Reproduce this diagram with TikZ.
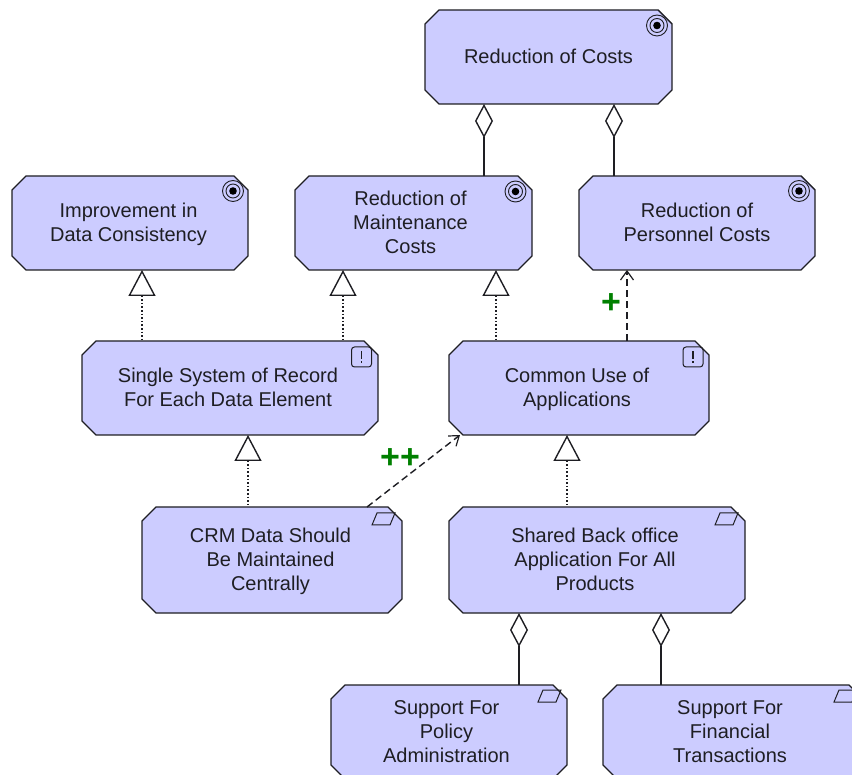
\documentclass[tikz,border=0pt]{standalone}
\usepackage{fontspec}
\setmainfont{Liberation Sans}
\usetikzlibrary{shapes.misc,arrows.meta}
\definecolor{boxfill}{RGB}{204,204,255}
\definecolor{plusgreen}{RGB}{0,128,0}
\definecolor{ink}{RGB}{30,30,35}
\newcommand{\ls}{\rule[-5.8pt]{0pt}{24pt}}
\tikzset{
  x=1pt,y=-1pt,
  el/.style={chamfered rectangle,chamfered rectangle xsep=7pt,chamfered rectangle ysep=7pt,
    draw=ink,line width=1.4pt,fill=boxfill,inner sep=0pt,outer sep=0pt,align=center,text=ink,
    font=\fontsize{20}{24}\selectfont},
  comp/.style={line width=1.4pt,draw=ink,{Diamond[open,length=34pt,width=18pt,line width=1.4pt]}-},
  realize/.style={line width=1.4pt,draw=ink,dash pattern=on 1.6pt off 2pt,{Triangle[open,length=26pt,width=27pt,line width=1.4pt,sep=0pt]}-},
  infl/.style={line width=1.4pt,draw=ink,dash pattern=on 7pt off 4pt,-{Straight Barb[length=9pt,width=13pt,line width=1.2pt]}},
  plus/.style={text=plusgreen,font=\fontsize{34}{34}\selectfont\bfseries,inner sep=0pt},
  goalicon/.pic={
    \draw[ink,line width=0.9pt] (0,0) circle (10.5);
    \draw[ink,line width=0.9pt] (0,0) circle (7);
    \fill[black] (0,0) circle (3.8);
  },
  reqicon/.pic={
    \draw[ink,line width=1pt,rounded corners=3pt] (-10,-10) rectangle (10,10);
    \draw[ink,line width=1.5pt] (0,-6) -- (0,2.5);
    \draw[ink,line width=1.5pt] (0,4.5) -- (0,6.5);
  },
  capicon/.pic={
    \draw[ink,line width=1pt] (-11.5,6) -- (-6.5,-6) -- (11.5,-6) -- (6.5,6) -- cycle;
  }
}
\begin{document}
\begin{tikzpicture}
\useasboundingbox (0,0) rectangle (852,775);
\begin{scope}
\clip (0,0) rectangle (852,775);
\node[el,minimum width=247pt,minimum height=94pt] (rc) at (548.5,57) {\ls Reduction of Costs};
\node[el,minimum width=236pt,minimum height=94pt] (ic) at (130,223) {\hspace*{-3pt}\ls Improvement in\\\hspace*{-3pt}\ls Data Consistency};
\node[el,minimum width=237pt,minimum height=94pt] (rm) at (413.5,223) {\hspace*{-6pt}\ls Reduction of\\\hspace*{-6pt}\ls Maintenance\\\hspace*{-6pt}\ls Costs};
\node[el,minimum width=236pt,minimum height=94pt] (rp) at (697,223) {\ls Reduction of\\\ls Personnel Costs};
\node[el,minimum width=296pt,minimum height=94pt] (ss) at (230,388) {\hspace*{-4pt}\ls Single System of Record\\\hspace*{-4pt}\ls For Each Data Element};
\node[el,minimum width=260pt,minimum height=94pt] (cu) at (579,388) {\hspace*{-4pt}\ls Common Use of\\\hspace*{-4pt}\ls Applications};
\node[el,minimum width=260pt,minimum height=106pt] (crm) at (272,560) {\hspace*{-3pt}\ls CRM Data Should\\\hspace*{-3pt}\ls Be Maintained\\\hspace*{-3pt}\ls Centrally};
\node[el,minimum width=296pt,minimum height=106pt] (sb) at (597,560) {\hspace*{-4pt}\ls Shared Back office\\\hspace*{-4pt}\ls Application For All\\\hspace*{-4pt}\ls Products};
\node[el,minimum width=236pt,minimum height=94pt] (spa) at (449,732) {\hspace*{-5pt}\ls Support For\\\hspace*{-5pt}\ls Policy\\\hspace*{-5pt}\ls Administration};
\node[el,minimum width=260pt,minimum height=94pt] (sf) at (733,732) {\hspace*{-6pt}\ls Support For\\\hspace*{-6pt}\ls Financial\\\hspace*{-6pt}\ls Transactions};

\draw[comp] (484,0 |- rc.south) -- (484,0 |- rm.north);
\draw[comp] (614,0 |- rc.south) -- (614,0 |- rp.north);
\draw[realize] (142,0 |- ic.south) -- (142,0 |- ss.north);
\draw[realize] (343,0 |- rm.south) -- (343,0 |- ss.north);
\draw[realize] (496,0 |- rm.south) -- (496,0 |- cu.north);
\draw[infl] (627,0 |- cu.north) -- (627,0 |- rp.south);
\draw[realize] (248,0 |- ss.south) -- (248,0 |- crm.north);
\draw[realize] (567,0 |- cu.south) -- (567,0 |- sb.north);
\draw[infl] (367,0 |- crm.north) -- (460,0 |- cu.south);
\draw[comp] (519,0 |- sb.south) -- (519,0 |- spa.north);
\draw[comp] (661,0 |- sb.south) -- (661,0 |- sf.north);

\node[plus] (p1) at (611,304) {+};
\node[plus] (p2) at (400,459) {++};

\pic at (657,25.5) {goalicon};
\pic at (233,191) {goalicon};
\pic at (515.5,191.5) {goalicon};
\pic at (799,191) {goalicon};
\pic at (361.5,357) {reqicon};
\pic at (693,357) {reqicon};
\pic at (383.5,519) {capicon};
\pic at (726.5,519) {capicon};
\pic at (549.5,696) {capicon};
\pic at (845.5,696) {capicon};
\end{scope}
\end{tikzpicture}
\end{document}
